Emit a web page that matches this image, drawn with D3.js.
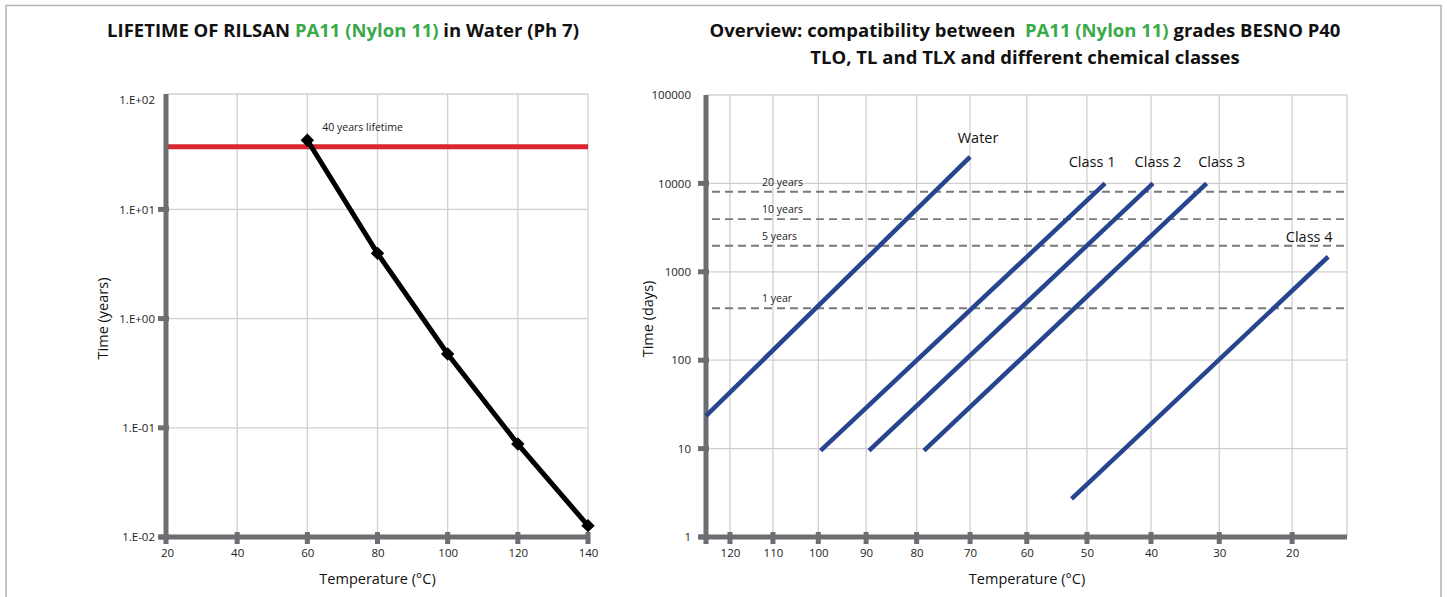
<!DOCTYPE html>
<html>
<head>
<meta charset="utf-8">
<script src="https://cdn.jsdelivr.net/npm/d3@7"></script>
<style>
  body { margin: 0; background: #fff; }
  svg { display: block; font-family: "Open Sans", "Noto Sans", sans-serif; }
</style>
</head>
<body>
<script>
// left chart data: lifetime in water
const leftTemps = [60, 80, 100, 120, 140];
const leftYears = [43, 3.96, 0.474, 0.071, 0.0127];
const lifetimeYears = 37.5;
const leftXTicks = [20, 40, 60, 80, 100, 120, 140];
const leftYTicks = [0.01, 0.1, 1, 10, 100];
const leftYTickLabels = ["1.E-02", "1.E-01", "1.E+00", "1.E+01", "1.E+02"];

// right chart data: chemical classes (Arrhenius plot)
const classNames = ["Water", "Class 1", "Class 2", "Class 3", "Class 4"];
const classStartTemp = [125.8, 99.5, 89.4, 78.6, 52.5];
const classEndTemp = [70, 47.1, 39.7, 31.8, 15.3];
const classStartDays = [23.4, 9.5, 9.5, 9.5, 2.7];
const classEndDays = [20000, 10000, 10000, 10000, 1480];
const limitLabels = ["20 years", "10 years", "5 years", "1 year"];
const limitDays = [8050, 3950, 1970, 387];
const rightXTicks = [120, 110, 100, 90, 80, 70, 60, 50, 40, 30, 20];
const rightYTicks = [1, 10, 100, 1000, 10000, 100000];

const W = 1447, H = 597;
const AXIS = '#6d6e71', GRID = '#d0d0d0', GREEN = '#3aaa48';

const svg = d3.select('body').append('svg')
  .attr('width', W)
  .attr('height', H);

// outer frame
svg.append('path')
  .attr('d', `M6,${H} V5.5 H1441 V${H}`)
  .attr('fill', 'none')
  .attr('stroke', '#b3b3b3')
  .attr('stroke-width', 1.5);

// ---------- titles ----------
const t1 = svg.append('text')
  .attr('x', 343).attr('y', 37)
  .attr('text-anchor', 'middle')
  .style('font-size', '18.5px').style('font-weight', 'bold').attr('fill', '#111');
t1.append('tspan').text('LIFETIME OF RILSAN ');
t1.append('tspan').attr('fill', GREEN).text('PA11 (Nylon 11)');
t1.append('tspan').text(' in Water (Ph 7)');

const t2 = svg.append('text')
  .attr('x', 1025).attr('y', 37)
  .attr('text-anchor', 'middle')
  .style('font-size', '18.5px').style('font-weight', 'bold').attr('fill', '#111')
  .attr('xml:space', 'preserve');
t2.append('tspan').text('Overview: compatibility between  ');
t2.append('tspan').attr('fill', GREEN).text('PA11 (Nylon 11)');
t2.append('tspan').text(' grades BESNO P40');
svg.append('text')
  .attr('x', 1025).attr('y', 64)
  .attr('text-anchor', 'middle')
  .style('font-size', '18.5px').style('font-weight', 'bold').attr('fill', '#111')
  .text('TLO, TL and TLX and different chemical classes');

// shared helpers
function drawFrame(g, x0, x1, y0, y1, xs, ys) {
  g.append('g').selectAll('line').data(xs).join('line')
    .attr('x1', d => d).attr('x2', d => d)
    .attr('y1', y0).attr('y2', y1)
    .attr('stroke', GRID).attr('stroke-width', 1.3);
  g.append('g').selectAll('line').data(ys).join('line')
    .attr('x1', x0).attr('x2', x1)
    .attr('y1', d => d).attr('y2', d => d)
    .attr('stroke', GRID).attr('stroke-width', 1.3);
}

function drawAxes(g, x0, x1, y0, y1, tickXs, tickYs) {
  g.append('line')
    .attr('x1', x0).attr('x2', x0).attr('y1', y0).attr('y2', y1 + 7)
    .attr('stroke', AXIS).attr('stroke-width', 5);
  g.append('line')
    .attr('x1', x0 - 7).attr('x2', x1).attr('y1', y1).attr('y2', y1)
    .attr('stroke', AXIS).attr('stroke-width', 5);
  g.append('g').selectAll('rect').data(tickXs).join('rect')
    .attr('x', d => d - 2.5).attr('y', y1 - 5).attr('width', 5).attr('height', 12)
    .attr('fill', AXIS);
  g.append('g').selectAll('rect').data(tickYs).join('rect')
    .attr('x', x0 - 8).attr('y', d => d - 2.5).attr('width', 11).attr('height', 5)
    .attr('fill', AXIS);
}

function styleTicks(axisG) {
  axisG.select('.domain').remove();
  axisG.selectAll('.tick line').remove();
  axisG.selectAll('text')
    .style('font-size', '11.5px')
    .style('font-family', '"Open Sans", sans-serif')
    .attr('fill', '#222');
}

// ---------- left chart ----------
const L = { x0: 167, x1: 588, y0: 94, y1: 537 };
const xL = d3.scaleLinear().domain([20, 140]).range([L.x0, L.x1]);
const yL = d3.scaleLog().domain([0.01, 114]).range([L.y1, L.y0]);
const gL = svg.append('g');

drawFrame(gL, L.x0, L.x1, L.y0, L.y1,
  leftXTicks.slice(1).map(xL),
  [L.y0].concat(leftYTicks.slice(1, 4).map(yL)));

gL.append('g')
  .attr('transform', `translate(0,${L.y1 + 9})`)
  .call(d3.axisBottom(xL).tickValues(leftXTicks).tickSize(0).tickPadding(3))
  .call(styleTicks);
gL.append('g')
  .attr('transform', `translate(${L.x0 - 12},0)`)
  .call(d3.axisLeft(yL).tickValues(leftYTicks)
    .tickFormat((d, i) => leftYTickLabels[i]).tickSize(0).tickPadding(0))
  .call(styleTicks);

// 40 years lifetime line
gL.append('line')
  .attr('x1', L.x0).attr('x2', L.x1)
  .attr('y1', yL(lifetimeYears)).attr('y2', yL(lifetimeYears))
  .attr('stroke', '#d9262f').attr('stroke-width', 5);

drawAxes(gL, L.x0 - 1, L.x1, L.y0, L.y1,
  leftXTicks.slice(1).map(xL), leftYTicks.slice(0, 4).map(yL));

const leftPts = leftTemps.map((t, i) => [t, leftYears[i]]);
gL.append('path')
  .datum(leftPts)
  .attr('d', d3.line().x(d => xL(d[0])).y(d => yL(d[1])))
  .attr('fill', 'none').attr('stroke', '#000').attr('stroke-width', 5);
gL.append('g').selectAll('path').data(leftPts).join('path')
  .attr('d', d3.symbol(d3.symbolSquare, 90))
  .attr('transform', d => `translate(${xL(d[0])},${yL(d[1])}) rotate(45)`)
  .attr('fill', '#000');

gL.append('text')
  .attr('x', xL(leftTemps[0]) + 15).attr('y', yL(leftYears[0]) - 9)
  .style('font-size', '10.5px').attr('fill', '#222')
  .text('40 years lifetime');

gL.append('text')
  .attr('transform', `translate(108,${(L.y0 + L.y1) / 2 + 3}) rotate(-90)`)
  .attr('text-anchor', 'middle')
  .style('font-size', '14.5px').attr('fill', '#111')
  .text('Time (years)');
gL.append('text')
  .attr('x', (L.x0 + L.x1) / 2).attr('y', 584)
  .attr('text-anchor', 'middle')
  .style('font-size', '14.5px').attr('fill', '#111')
  .text('Temperature (°C)');

// ---------- right chart ----------
const R = { x0: 706, x1: 1347, y0: 95, y1: 537 };
const inv = t => 1 / (t + 273.15);
const xR = d3.scaleLinear().domain([inv(125.8), inv(12.9)]).range([R.x0, R.x1]);
const yR = d3.scaleLog().domain([1, 100000]).range([R.y1, R.y0]);
const gR = svg.append('g');

drawFrame(gR, R.x0, R.x1, R.y0, R.y1,
  rightXTicks.map(t => xR(inv(t))).concat([R.x1]),
  rightYTicks.slice(1).map(yR));

gR.append('g')
  .attr('transform', `translate(0,${R.y1 + 9})`)
  .call(d3.axisBottom(xR).tickValues(rightXTicks.map(inv))
    .tickFormat(v => Math.round(1 / v - 273.15)).tickSize(0).tickPadding(3))
  .call(styleTicks);
gR.append('g')
  .attr('transform', `translate(${R.x0 - 15},0)`)
  .call(d3.axisLeft(yR).tickValues(rightYTicks).tickFormat(d3.format('d'))
    .tickSize(0).tickPadding(0))
  .call(styleTicks);

// year limits
gR.append('g').selectAll('line').data(limitDays).join('line')
  .attr('x1', R.x0 + 6).attr('x2', R.x1)
  .attr('y1', d => yR(d)).attr('y2', d => yR(d))
  .attr('stroke', '#7a7a7a').attr('stroke-width', 1.8)
  .attr('stroke-dasharray', '8,5');
gR.append('g').selectAll('text').data(limitDays).join('text')
  .attr('x', R.x0 + 56).attr('y', d => yR(d) - 6)
  .style('font-size', '10.5px').attr('fill', '#222')
  .text((d, i) => limitLabels[i]);

drawAxes(gR, R.x0, R.x1, R.y0, R.y1,
  rightXTicks.map(t => xR(inv(t))), rightYTicks.slice(0, 5).map(yR));

const classLines = classNames.map((name, i) => ({
  name,
  pts: [[classStartTemp[i], classStartDays[i]], [classEndTemp[i], classEndDays[i]]]
}));
gR.append('g').selectAll('path').data(classLines).join('path')
  .attr('d', d => d3.line().x(p => xR(inv(p[0]))).y(p => yR(p[1]))(d.pts))
  .attr('fill', 'none').attr('stroke', '#27448f').attr('stroke-width', 4.5);

// label shifts relative to each line's upper end
const labelShift = [[8, -14], [-13, -16], [5, -16], [15, -16], [-19, -15]];
gR.append('g').selectAll('text').data(classLines).join('text')
  .attr('x', (d, i) => xR(inv(d.pts[1][0])) + labelShift[i][0])
  .attr('y', (d, i) => yR(d.pts[1][1]) + labelShift[i][1])
  .attr('text-anchor', 'middle')
  .style('font-size', '14.5px').attr('fill', '#111')
  .text(d => d.name);

gR.append('text')
  .attr('transform', `translate(653,${(R.y0 + R.y1) / 2 + 3}) rotate(-90)`)
  .attr('text-anchor', 'middle')
  .style('font-size', '14.5px').attr('fill', '#111')
  .text('Time (days)');
gR.append('text')
  .attr('x', 1027).attr('y', 584)
  .attr('text-anchor', 'middle')
  .style('font-size', '14.5px').attr('fill', '#111')
  .text('Temperature (°C)');
</script>
</body>
</html>
